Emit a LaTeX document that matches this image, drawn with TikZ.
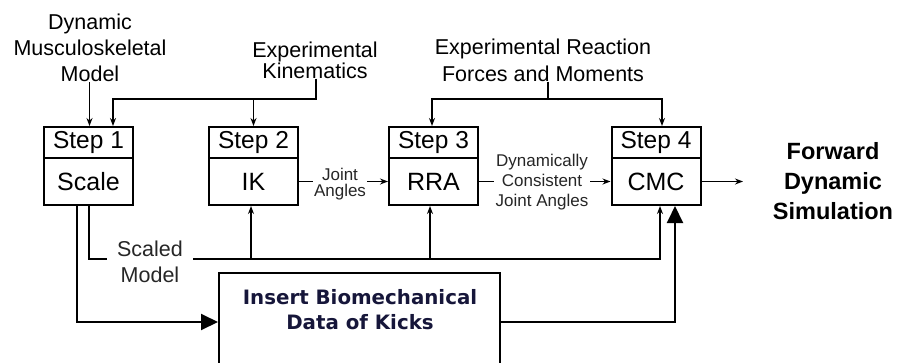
\documentclass[tikz,border=0pt]{standalone}
\usepackage{fontspec}
\setmainfont{Liberation Sans}
\newfontfamily\insfont{DejaVu Sans}
\usetikzlibrary{arrows.meta}
\definecolor{inkblue}{RGB}{22,22,58}
\tikzset{
  lbl/.style={align=center, inner sep=0pt, font=\fontsize{21.5}{26}\selectfont},
  small/.style={align=center, inner sep=1.5pt, fill=white, text=black!85,
                font=\fontsize{17}{16}\selectfont},
  hdr/.style={draw, line width=2pt, minimum width=89pt, minimum height=31pt,
              inner sep=0pt, font=\fontsize{24.5}{28}\selectfont},
  body/.style={draw, line width=2pt, minimum width=89pt, minimum height=47pt,
               inner sep=0pt, font=\fontsize{25}{28}\selectfont},
  conn/.style={line width=1.3pt, -{Stealth[length=8pt,width=6pt]}},
  plain/.style={line width=1.3pt},
  big/.style={line width=2pt, -{Triangle[length=17pt,width=16pt]}}
}
\begin{document}
\begin{tikzpicture}[x=1pt,y=-1pt]
\useasboundingbox (0,0) rectangle (897,362);

% processing steps
\node[hdr]  (s1h) at (88.5,142.5) {Step 1};
\node[body] (s1b) at (88.5,181.5) {Scale};
\node[hdr]  (s2h) at (253.5,142.5) {Step 2};
\node[body] (s2b) at (253.5,181.5) {IK};
\node[hdr]  (s3h) at (433.5,142.5) {Step 3};
\node[body] (s3b) at (433.5,181.5) {RRA};
\node[hdr]  (s4h) at (656,142.5) {Step 4};
\node[body] (s4b) at (656,181.5) {CMC};

% inputs
\node[lbl] (dm)  at (90,48) {Dynamic\\Musculoskeletal\\Model};
\node[lbl, font=\fontsize{21.5}{20}\selectfont] (kin) at (315,60) {Experimental\\Kinematics};
\node[lbl, font=\fontsize{21.5}{27}\selectfont] (frc) at (543,60) {Experimental Reaction\\Forces and Moments};

% output
\node[lbl, font=\bfseries\fontsize{23.5}{30}\selectfont] (out) at (833,181) {Forward\\Dynamic\\Simulation};

% kick data block
\node[draw, line width=2pt, minimum width=281pt, minimum height=98pt, inner sep=0pt]
  (ins) at (359.5,322) {};
\node[align=center, inner sep=0pt, text=inkblue,
      font=\insfont\bfseries\fontsize{19.8}{25}\selectfont] (instxt) at (360,310)
  {Insert Biomechanical\\Data of Kicks};

% junction heights
\coordinate (kj) at (316,99);
\coordinate (fj) at (548,99);
\coordinate (rail) at (0,259);

% model into step 1
\draw[conn] ([xshift=-0.5pt]dm.south) -- ([xshift=-0.5pt]dm.south |- s1h.north);

% kinematics into steps 1 and 2
\draw[conn] (kin.south -| kj) -- (kj) -| ([xshift=24.5pt]s1h.north);
\draw[conn] (s2h.north |- kj) -- (s2h.north);

% reaction loads into steps 3 and 4
\draw[plain] (frc.south -| fj) -- (fj);
\draw[conn] (fj) -| ([xshift=-1.5pt]s3h.north);
\draw[conn] (fj) -| ([xshift=6pt]s4h.north);

% step to step
\draw[conn] (s2b.east) -- (s3b.west);
\node[small] (ja) at (340,184) {Joint\\Angles};
\draw[conn] (s3b.east) -- (s4b.west);
\node[small, font=\fontsize{17}{20}\selectfont] (dc) at (542,182)
  {Dynamically\\Consistent\\Joint Angles};
\coordinate (fo) at (743,181.5);
\draw[conn] (s4b.east) -- (fo);

% scaled model rail
\draw[conn] ([xshift=0.5pt]s1b.south) |- ([xshift=4pt]s4b.south |- rail)
  -- ([xshift=4pt]s4b.south);
\draw[conn] ([xshift=-2.5pt]s2b.south |- rail) -- ([xshift=-2.5pt]s2b.south);
\draw[conn] ([xshift=-3.5pt]s3b.south |- rail) -- ([xshift=-3.5pt]s3b.south);
\node[lbl, fill=white, inner xsep=10pt, inner ysep=1pt, text=black!85] (sm) at (150,262)
  {Scaled\\Model};

% kick data path
\draw[big] ([xshift=-11.5pt]s1b.south) |- (ins.west);
\draw[big] (ins.east) -| ([xshift=19pt]s4b.south);
\end{tikzpicture}
\end{document}
